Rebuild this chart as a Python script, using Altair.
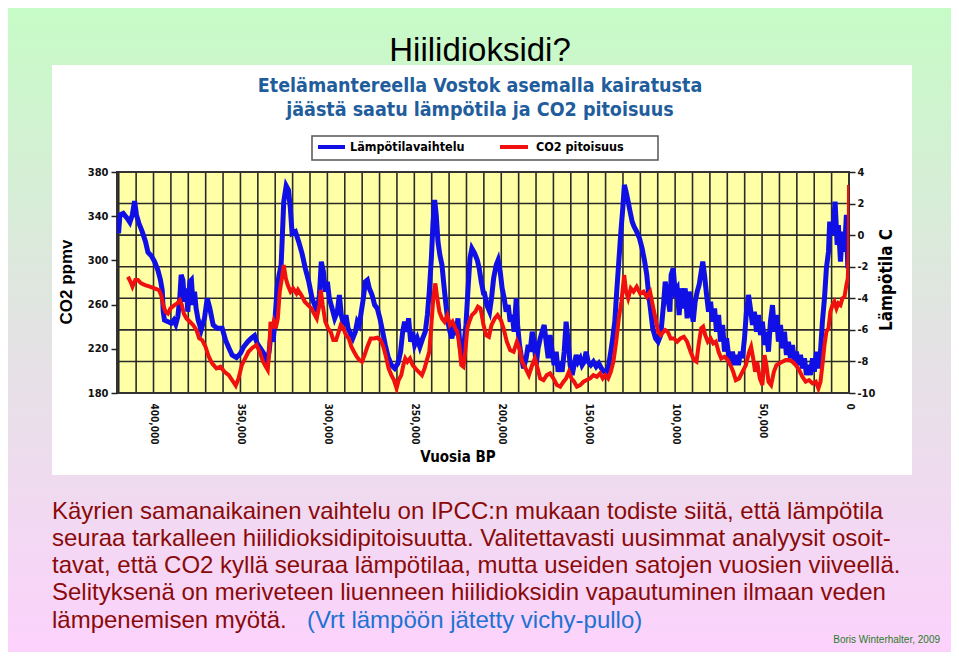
import altair as alt
import pandas as pd

# ---------------- data ----------------
# Temperature (blue), thousands of years BP and degrees C
temp_kyr_a = [420.1, 419.3, 417.4, 415.1, 413.6, 412.2, 410.9, 409.8, 408.4, 406.5,
              404.6, 403.2, 401.3, 399.4, 397.5, 396.0, 395.0, 394.4, 393.7, 391.7,
              389.8, 388.3, 387.2, 386.0, 384.9, 384.1, 383.1, 382.2, 381.0, 380.3,
              379.1, 378.2, 377.2, 376.4, 375.5, 374.3, 372.6, 370.7, 369.1, 367.6,
              365.7, 363.4, 360.5, 358.6, 356.7, 354.8, 352.3, 350.0, 348.1, 345.8,
              343.9, 341.9, 340.4, 338.5, 336.6, 334.7, 333.5, 332.4, 331.2, 330.1,
              328.9, 327.8, 326.6, 325.8, 325.1, 323.7, 322.4, 321.3, 320.3]
temp_c_a = [0.11, 1.28, 1.38, 1.06, 0.81, 1.28, 2.16, 1.28, 0.75, 0.22,
            -0.41, -1.09, -1.30, -1.68, -2.21, -2.84, -3.48, -4.85, -5.38, -5.48,
            -5.59, -5.38, -5.65, -5.16, -4.00, -2.52, -2.84, -4.22, -3.37, -4.85,
            -2.95, -2.84, -4.43, -3.58, -4.64, -5.38, -6.01, -5.27, -4.00, -4.64,
            -5.69, -5.90, -5.90, -6.64, -7.13, -7.59, -7.76, -7.49, -7.07, -6.75,
            -6.54, -6.37, -6.85, -7.17, -7.49, -8.12, -7.38, -6.12, -6.75, -5.27,
            -3.37, -2.52, -1.89, 0.22, 2.12, 3.13, 2.86, 1.70, 0.11]
temp_kyr_b = [318.4, 316.5, 314.6, 312.7, 310.7, 308.8, 307.3, 305.8, 304.6, 303.5,
              302.3, 301.2, 300.0, 298.9, 297.3, 295.8, 294.3, 293.1, 292.0, 290.6,
              289.3, 288.1, 286.8, 285.4, 283.9, 282.8, 281.6, 280.5, 279.3, 278.2,
              277.0, 275.9, 274.3, 272.8, 271.3, 269.8, 268.2, 266.7, 265.1, 263.2,
              261.3, 259.4, 257.9, 256.7, 255.6, 254.4, 253.3, 252.1, 251.0, 249.8,
              248.3, 246.8, 245.2, 243.7, 242.5, 241.4, 240.2, 239.3, 238.3, 237.4,
              236.4, 235.3, 234.1, 233.0, 231.8, 230.7, 229.5, 228.4, 227.2, 226.1,
              224.9, 223.8, 222.6, 221.5, 220.3, 219.2, 218.0, 216.9, 215.3, 213.8,
              212.7, 211.5, 210.0]
temp_c_b = [0.22, -0.41, -1.15, -2.10, -2.95, -4.00, -4.43, -4.85, -3.79, -1.68,
            -2.31, -3.58, -2.95, -4.00, -4.64, -5.27, -4.85, -3.79, -5.06, -5.69,
            -5.06, -5.90, -6.22, -6.54, -6.12, -5.48, -5.69, -4.85, -4.00, -2.95,
            -2.84, -3.37, -3.79, -4.43, -4.64, -5.27, -6.12, -6.96, -7.70, -8.23,
            -8.44, -8.12, -7.38, -6.12, -5.48, -6.12, -5.27, -6.75, -6.12, -6.96,
            -6.54, -7.07, -6.54, -6.12, -5.06, -3.58, -1.47, 0.64, 2.23, 1.28,
            -0.41, -1.26, -1.89, -3.16, -4.43, -5.48, -6.12, -6.54, -5.69, -6.33,
            -5.27, -6.96, -7.70, -6.96, -5.69, -3.58, -1.47, -0.84, -1.15, -1.58,
            -2.10, -2.95, -3.79]
temp_kyr_c = [209.8, 208.3, 206.7, 205.6, 204.4, 202.9, 201.8, 200.6, 199.5, 198.3,
              197.2, 196.0, 194.9, 193.7, 192.6, 191.4, 190.6, 189.5, 188.3, 187.2,
              185.7, 184.5, 183.4, 182.2, 181.1, 179.9, 178.8, 177.6, 176.5, 175.3,
              174.2, 173.0, 171.9, 170.7, 169.6, 168.4, 167.3, 166.1, 165.0, 163.8,
              162.7, 161.5, 160.4, 159.2, 158.1, 156.9, 155.8, 154.6, 153.5, 152.3,
              151.2, 150.0, 148.5, 147.0, 145.4, 143.9, 142.4, 140.8, 139.3, 138.2,
              137.0, 135.9, 134.7, 133.6, 132.4, 131.2, 130.1, 129.2, 128.2, 127.0,
              125.9, 124.7, 123.6, 122.1, 120.5, 119.0, 117.5, 116.3, 115.2, 114.0,
              112.9, 111.3, 109.8, 108.3, 106.7]
temp_c_c = [-3.58, -4.43, -4.85, -4.00, -2.74, -1.89, -1.58, -2.31, -3.37, -4.00,
            -4.85, -4.43, -5.48, -5.06, -6.12, -4.00, -5.69, -6.96, -7.80, -8.44,
            -7.80, -6.96, -7.38, -6.12, -6.75, -8.23, -7.17, -6.54, -6.12, -5.69,
            -6.75, -7.80, -6.33, -7.38, -8.23, -7.38, -8.65, -8.02, -8.65, -7.38,
            -5.48, -6.75, -8.23, -8.86, -8.23, -7.59, -8.02, -7.80, -8.23, -8.02,
            -7.38, -8.02, -8.23, -8.02, -8.33, -8.12, -8.44, -8.65, -8.76, -8.23,
            -7.38, -6.54, -5.48, -3.58, -1.68, 0.22, 1.70, 3.18, 2.75, 2.12,
            1.49, 0.85, 0.54, 0.22, -0.20, -0.84, -1.68, -2.52, -3.79, -4.85,
            -5.90, -6.54, -6.75, -6.33, -4.43]
temp_kyr_d = [105.7, 104.2, 103.0, 102.3, 101.1, 100.0, 98.8, 97.7, 96.5, 95.4,
              94.2, 93.1, 91.9, 90.8, 89.6, 88.5, 87.3, 86.2, 85.0, 84.1,
              83.1, 81.9, 80.8, 79.6, 78.5, 77.3, 76.2, 75.0, 73.9, 72.7,
              71.6, 70.4, 69.3, 68.2, 67.0, 65.9, 64.7, 63.6, 62.4, 61.3,
              60.1, 59.0, 57.8, 56.7, 55.5, 54.4, 53.2, 52.1, 50.9, 49.8,
              48.6, 47.5, 46.3, 45.2, 44.0, 42.9, 41.7, 40.6, 39.4, 38.3,
              37.1, 36.0, 34.8, 33.7, 32.5, 31.4, 30.2, 29.1, 27.9, 26.8,
              25.6, 24.5, 23.3, 22.2, 21.0, 19.9, 18.7, 17.6, 16.4, 15.3,
              14.1, 13.0, 11.8, 11.1, 9.9, 8.8, 8.0, 6.8, 6.1, 4.9,
              3.8, 2.6, 1.5, 0.7, 0.0]
temp_c_d = [-2.95, -4.00, -4.85, -2.52, -2.10, -3.58, -3.37, -5.06, -3.37, -4.64,
            -3.37, -5.27, -3.58, -4.64, -5.48, -4.22, -3.58, -3.16, -2.31, -1.68,
            -2.52, -3.79, -4.85, -4.22, -5.48, -4.64, -6.12, -5.06, -6.75, -5.69,
            -7.38, -6.54, -7.59, -8.23, -7.38, -8.23, -7.59, -8.23, -7.38, -7.80,
            -6.54, -4.85, -3.79, -4.64, -5.69, -4.85, -6.12, -5.06, -6.33, -5.48,
            -6.96, -6.12, -7.38, -5.48, -4.43, -6.12, -5.06, -6.75, -5.69, -7.17,
            -6.12, -7.59, -6.75, -7.80, -6.96, -8.02, -7.38, -8.23, -7.59, -8.44,
            -7.80, -8.86, -8.23, -8.86, -7.80, -8.65, -7.38, -8.44, -7.38, -5.48,
            -4.00, -2.10, -1.05, 0.85, 0.01, 0.85, 2.12, -0.62, 0.64, -1.68,
            0.22, -1.05, 1.28, -2.10, -1.05]

# CO2 (red), thousands of years BP and ppmv
co2_kyr_a = [414.7, 413.2, 412.1, 410.5, 409.0, 407.1, 404.8, 402.1, 399.4, 396.9,
             395.6, 394.4, 393.1, 391.7, 390.2, 387.9, 386.4, 384.9, 383.7, 382.6,
             381.0, 379.1, 377.2, 375.3, 373.7, 372.0, 370.1, 368.2, 366.3, 363.8,
             361.5, 359.2, 356.7, 354.2, 352.7, 351.1, 349.2, 347.3, 345.4, 343.1,
             340.8, 338.9, 337.0, 335.4, 334.3, 333.5, 332.7, 331.8, 330.8, 329.7,
             328.5, 327.4, 326.2, 325.1, 323.9, 322.8, 321.2, 319.7, 317.8]
co2_ppm_a = [285.2, 280.7, 276.2, 282.2, 282.2, 279.2, 277.7, 276.2, 274.7, 273.2,
             268.6, 259.6, 253.6, 252.0, 256.6, 259.6, 261.1, 264.1, 259.6, 252.0,
             247.5, 244.5, 241.5, 237.0, 229.4, 227.9, 221.9, 212.8, 206.8, 202.3,
             203.8, 199.2, 196.2, 190.2, 186.6, 193.2, 205.3, 211.3, 217.3, 221.0,
             223.4, 217.3, 208.3, 203.8, 200.8, 217.3, 244.5, 238.5, 244.5, 238.5,
             247.5, 271.7, 283.7, 295.8, 283.7, 277.7, 271.7, 274.7, 270.1]
co2_kyr_b = [316.9, 315.0, 313.0, 311.1, 309.2, 307.7, 306.1, 304.6, 303.8, 302.7,
             301.2, 299.6, 298.1, 296.6, 295.0, 293.5, 292.3, 290.8, 289.3, 287.7,
             286.2, 284.7, 283.1, 281.6, 280.1, 278.6, 277.0, 275.1, 273.2, 271.3,
             269.4, 267.8, 266.3, 264.8, 263.2, 261.7, 260.2, 259.0, 257.5, 256.3,
             255.2, 254.0, 252.5, 251.0, 249.4, 247.5, 245.6, 244.1, 242.5, 241.4,
             240.2, 239.1, 237.9, 236.8, 235.6, 234.1, 232.6, 231.0, 229.5, 228.0,
             226.4, 225.3, 224.1, 223.0, 221.8, 220.7, 219.5, 218.4, 216.9, 214.9,
             213.4, 211.9]
co2_ppm_b = [273.2, 268.6, 262.6, 259.6, 256.6, 252.0, 247.5, 259.6, 273.2, 259.6,
             244.5, 238.5, 235.4, 227.9, 227.9, 235.4, 241.5, 238.5, 232.4, 229.4,
             221.9, 217.3, 212.8, 209.8, 208.3, 214.3, 221.9, 229.4, 229.4, 230.0,
             227.9, 221.9, 212.8, 202.3, 196.2, 191.7, 184.2, 191.7, 196.2, 205.3,
             211.3, 208.3, 211.3, 205.3, 202.3, 199.2, 196.2, 202.3, 211.3, 217.3,
             241.5, 265.6, 279.2, 265.6, 253.6, 247.5, 244.5, 250.5, 241.5, 244.5,
             238.5, 235.4, 223.4, 205.3, 203.8, 217.3, 238.5, 244.5, 250.5, 253.6,
             258.1, 256.6]
co2_kyr_c = [210.2, 208.7, 207.1, 205.6, 203.7, 202.1, 200.2, 198.7, 196.8, 194.9,
             192.9, 191.0, 189.5, 188.0, 186.0, 184.1, 182.2, 180.7, 179.1, 177.6,
             175.7, 173.8, 171.9, 170.0, 168.0, 166.1, 164.2, 162.7, 161.1, 159.6,
             158.1, 156.5, 154.6, 152.7, 150.8, 148.9, 147.0, 145.0, 143.1, 141.6,
             140.1, 138.5, 137.0, 135.5, 133.9, 132.4, 130.9, 129.3, 128.2, 127.0,
             125.5, 123.9, 122.1, 120.1, 118.2, 116.3, 114.4, 112.9, 111.3, 109.8,
             108.3, 106.7]
co2_ppm_c = [241.5, 232.4, 230.9, 241.5, 247.5, 250.5, 246.0, 238.5, 226.4, 218.8,
             217.3, 226.4, 220.4, 208.3, 202.3, 196.2, 205.3, 211.3, 202.3, 193.2,
             191.7, 196.2, 197.7, 193.2, 187.2, 185.7, 190.2, 193.2, 199.2, 193.2,
             190.2, 185.7, 187.2, 190.2, 191.7, 193.2, 196.2, 194.7, 197.7, 193.2,
             196.2, 193.2, 199.2, 208.3, 226.4, 247.5, 262.6, 286.7, 271.7, 265.6,
             274.7, 271.7, 276.2, 270.1, 271.7, 267.1, 271.7, 259.6, 247.5, 235.4,
             232.4, 235.4]
co2_kyr_d = [105.7, 104.2, 102.6, 100.7, 98.8, 96.9, 95.0, 93.1, 91.1, 89.2,
             87.7, 86.5, 85.0, 83.9, 82.7, 81.2, 79.6, 78.1, 76.6, 75.0,
             73.5, 71.6, 69.7, 68.2, 66.6, 65.1, 63.2, 61.3, 59.3, 57.4,
             56.3, 55.1, 54.0, 52.8, 51.3, 49.8, 48.6, 47.5, 46.3, 44.8,
             43.2, 41.7, 40.2, 38.3, 36.4, 34.4, 32.5, 30.6, 28.7, 26.8,
             24.9, 23.0, 21.0, 19.1, 17.6, 16.4, 15.3, 14.1, 13.0, 11.8,
             10.7, 9.5, 8.4, 7.2, 6.1, 4.9, 3.8, 2.6, 1.5, 0.7,
             0.1, 0.0]
co2_ppm_d = [237.0, 235.4, 229.4, 229.4, 226.4, 229.4, 230.9, 226.4, 217.3, 209.8,
             208.3, 223.4, 238.5, 240.0, 232.4, 226.4, 229.4, 224.9, 226.4, 217.3,
             211.3, 212.8, 209.8, 205.3, 199.2, 191.7, 193.2, 199.2, 205.3, 217.3,
             221.9, 211.3, 199.2, 208.3, 193.2, 187.2, 214.3, 205.3, 190.2, 187.2,
             199.2, 205.3, 206.8, 208.3, 209.8, 209.8, 208.3, 205.3, 200.8, 194.7,
             190.2, 191.7, 188.7, 190.2, 184.2, 190.2, 205.3, 223.4, 235.4, 238.5,
             253.6, 259.6, 262.6, 256.6, 261.1, 259.6, 265.6, 267.1, 277.7, 283.7,
             310.9, 368.2]

year_labels = [0, 50000, 100000, 150000, 200000, 250000, 300000, 350000, 400000]
co2_labels = [180, 220, 260, 300, 340, 380]
temp_labels = [-10, -8, -6, -4, -2, 0, 2, 4]
grid_years = list(range(0, 430000, 10000))
grid_temps = [-8, -6, -4, -2, 0, 2]

slide_title = "Hiilidioksidi?"
chart_title = ["Etelämantereella Vostok asemalla kairatusta",
               "jäästä saatu lämpötila ja CO2 pitoisuus"]
legend_labels = ["Lämpötilavaihtelu", "CO2 pitoisuus"]
x_title = "Vuosia BP"
y_left_title = "CO2 ppmv"
y_right_title = "Lämpötila C"
body_lines = ["Käyrien samanaikainen vaihtelu on IPCC:n mukaan todiste siitä, että lämpötila",
              "seuraa tarkalleen hiilidioksidipitoisuutta. Valitettavasti uusimmat analyysit osoit-",
              "tavat, että CO2 kyllä seuraa lämpötilaa, mutta useiden satojen vuosien viiveellä.",
              "Selityksenä on meriveteen liuenneen hiilidioksidin vapautuminen ilmaan veden",
              "lämpenemisen myötä."]
link_text = "(Vrt lämpöön jätetty vichy-pullo)"
credit = "Boris Winterhalter, 2009"

# ---------------- build ----------------
temp_kyr = temp_kyr_a + temp_kyr_b + temp_kyr_c + temp_kyr_d
temp_c = temp_c_a + temp_c_b + temp_c_c + temp_c_d
co2_kyr = co2_kyr_a + co2_kyr_b + co2_kyr_c + co2_kyr_d
co2_ppm = co2_ppm_a + co2_ppm_b + co2_ppm_c + co2_ppm_d
assert len(temp_kyr) == len(temp_c), (len(temp_kyr), len(temp_c))
assert len(co2_kyr) == len(co2_ppm), (len(co2_kyr), len(co2_ppm))

temp_df = pd.DataFrame({"year": [k * 1000 for k in temp_kyr], "temp": temp_c})
co2_df = pd.DataFrame({"year": [k * 1000 for k in co2_kyr], "co2": co2_ppm})
gx_df = pd.DataFrame({"year": grid_years})
gy_df = pd.DataFrame({"t": grid_temps})
one = pd.DataFrame({"a": [0]})

W, H = 732, 221
PADL, PADT, PADR, PADB = 109, 164, 102, 259
XF = "'DejaVu Sans Condensed', 'DejaVu Sans', sans-serif"
AF = "'Liberation Sans', Arial, sans-serif"

xscale = alt.Scale(domain=[0, 421000], reverse=True, nice=False, zero=False)
xaxis = alt.Axis(values=year_labels, labelAngle=90, format=",d", grid=False, ticks=False,
                 domain=False, labelFont=XF, labelFontSize=10, labelFontWeight="bold",
                 labelColor="#111111", labelPadding=10, title=None, zindex=1,
                 labelOverlap=False)

bg = alt.Chart(one).mark_rect(
    color=alt.LinearGradient(gradient="linear",
                             stops=[alt.GradientStop(offset=0, color="#c6fbc6"),
                                    alt.GradientStop(offset=0.5, color="#e3e3e3"),
                                    alt.GradientStop(offset=1, color="#fcd2fc")],
                             x1=0, x2=0, y1=0, y2=1)
).encode(x=alt.value(-PADL), x2=alt.value(W + PADR), y=alt.value(-PADT), y2=alt.value(H + PADB))

panel = alt.Chart(one).mark_rect(color="white").encode(
    x=alt.value(-65), x2=alt.value(795), y=alt.value(-107), y2=alt.value(303))

plotbg = alt.Chart(one).mark_rect(color="#ffffa6").encode(
    x=alt.value(0), x2=alt.value(W), y=alt.value(0), y2=alt.value(H))

gridx = alt.Chart(gx_df).mark_rule(color="#2a2a2a", strokeWidth=1.6).encode(
    x=alt.X("year:Q", scale=xscale, axis=xaxis))
gridy = alt.Chart(gy_df).mark_rule(color="#2a2a2a", strokeWidth=1.6).encode(
    y=alt.Y("t:Q", scale=alt.Scale(domain=[-10, 4], nice=False, zero=False), axis=None))

frame = alt.Chart(one).mark_rect(fill=None, stroke="#333333", strokeWidth=2).encode(
    x=alt.value(0), x2=alt.value(W), y=alt.value(0), y2=alt.value(H))

temp_line = alt.Chart(temp_df).mark_line(color="#1010e6", strokeWidth=5, clip=True).encode(
    x=alt.X("year:Q", scale=xscale, axis=xaxis),
    y=alt.Y("temp:Q", scale=alt.Scale(domain=[-10, 4], nice=False, zero=False),
            axis=alt.Axis(orient="right", values=temp_labels, labelExpr="'' + datum.value",
                          grid=False, domain=False, tickSize=6, tickColor="#222222",
                          tickWidth=1.5, labelFont=XF, labelFontSize=11, labelFontWeight="bold",
                          labelColor="#111111", labelPadding=2, title=None, zindex=1)))

co2_line = alt.Chart(co2_df).mark_line(color="#f01010", strokeWidth=4, clip=True).encode(
    x=alt.X("year:Q", scale=xscale, axis=xaxis),
    y=alt.Y("co2:Q", scale=alt.Scale(domain=[180, 380], nice=False, zero=False),
            axis=alt.Axis(orient="left", values=co2_labels, grid=False, domain=False,
                          tickSize=6, tickColor="#222222", tickWidth=1.5, labelFont=XF,
                          labelFontSize=11, labelFontWeight="bold", labelColor="#111111",
                          labelPadding=3, title=None, zindex=1)))


def txt(s, x, y, size, color="#000000", font=AF, weight="normal", align="left",
        baseline="middle", angle=0):
    return alt.Chart(pd.DataFrame({"t": [s]})).mark_text(
        font=font, fontSize=size, fontWeight=weight, color=color, align=align,
        baseline=baseline, angle=angle).encode(text="t:N", x=alt.value(x), y=alt.value(y))


texts = [
    txt(slide_title, 363, -121, 33, align="center"),
    txt(chart_title[0], 363, -86, 19.5, color="#1f5d9c", font=XF, weight="bold", align="center"),
    txt(chart_title[1], 363, -62, 19.5, color="#1f5d9c", font=XF, weight="bold", align="center"),
    txt(x_title, 341, 285, 15, font=XF, weight="bold", align="center"),
    txt(y_left_title, -50, 110, 17, weight="bold", align="center", angle=270),
    txt(y_right_title, 770, 108, 17, font=XF, weight="bold", align="center", angle=270),
    txt(legend_labels[0], 233, -25, 12.5, font=XF, weight="bold"),
    txt(legend_labels[1], 419, -25, 12.5, font=XF, weight="bold"),
]
body_y = [340, 366.5, 393.5, 421, 449]
for line, yy in zip(body_lines, body_y):
    texts.append(txt(line, -65, yy, 24, color="#8a0a0a"))
texts.append(txt(link_text, 190, 449, 24, color="#1e72d2"))
texts.append(txt(credit, 823, 468, 10, color="#2a7a2a", align="right"))

legend_box = alt.Chart(one).mark_rect(fill="white", stroke="#555555", strokeWidth=1.5).encode(
    x=alt.value(195), x2=alt.value(541), y=alt.value(-36), y2=alt.value(-12))
leg_blue = alt.Chart(one).mark_rule(color="#1010e6", strokeWidth=4).encode(
    x=alt.value(201), x2=alt.value(228), y=alt.value(-25))
leg_red = alt.Chart(one).mark_rule(color="#f01010", strokeWidth=4).encode(
    x=alt.value(383), x2=alt.value(411), y=alt.value(-25))

chart = alt.layer(
    bg, panel, plotbg, gridx, gridy, frame, temp_line, co2_line,
    legend_box, leg_blue, leg_red, *texts
).resolve_scale(y="independent").properties(
    width=W, height=H,
    padding={"left": PADL, "top": PADT, "right": PADR, "bottom": PADB},
    autosize=alt.AutoSizeParams(type="none"),
    background="white",
).configure_view(stroke=None)

chart.save("out.html", embed_options={"renderer": "svg", "actions": False})
